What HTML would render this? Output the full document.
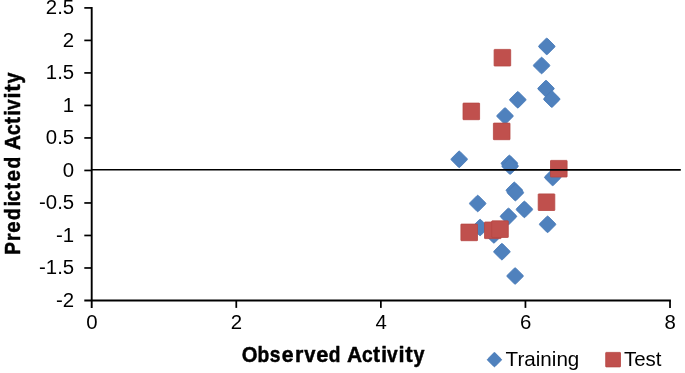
<!DOCTYPE html>
<html><head><meta charset="utf-8"><title>Predicted vs Observed Activity</title>
<style>
html,body{margin:0;padding:0;background:#fff;}
body{width:685px;height:373px;overflow:hidden;font-family:"Liberation Sans",sans-serif;}
svg{display:block;will-change:transform;}
text{font-family:"Liberation Sans",sans-serif;fill:#000;}
.t{font-size:20.6px;}
.l{font-size:20.2px;}
.b{font-size:22.3px;font-weight:bold;stroke:#000;stroke-width:0.5px;stroke-linejoin:round;}
</style></head><body>
<svg width="685" height="373" viewBox="0 0 685 373">
<rect width="685" height="373" fill="#fff"/>

<g fill="#4f81bd" stroke="#477ab8" stroke-width="0.8">
<rect x="540.70" y="40.30" width="12.20" height="12.20" rx="1.1" transform="rotate(45 546.80 46.40)"/>
<rect x="535.50" y="59.40" width="12.20" height="12.20" rx="1.1" transform="rotate(45 541.60 65.50)"/>
<rect x="539.90" y="82.50" width="12.20" height="12.20" rx="1.1" transform="rotate(45 546.00 88.60)"/>
<rect x="545.70" y="93.00" width="12.20" height="12.20" rx="1.1" transform="rotate(45 551.80 99.10)"/>
<rect x="511.70" y="93.70" width="12.20" height="12.20" rx="1.1" transform="rotate(45 517.80 99.80)"/>
<rect x="498.90" y="109.90" width="12.20" height="12.20" rx="1.1" transform="rotate(45 505.00 116.00)"/>
<rect x="453.10" y="153.20" width="12.20" height="12.20" rx="1.1" transform="rotate(45 459.20 159.30)"/>
<rect x="503.30" y="157.30" width="12.20" height="12.20" rx="1.1" transform="rotate(45 509.40 163.40)"/>
<rect x="504.00" y="160.00" width="12.20" height="12.20" rx="1.1" transform="rotate(45 510.10 166.10)"/>
<rect x="508.20" y="184.20" width="12.20" height="12.20" rx="1.1" transform="rotate(45 514.30 190.30)"/>
<rect x="509.30" y="186.50" width="12.20" height="12.20" rx="1.1" transform="rotate(45 515.40 192.60)"/>
<rect x="471.60" y="197.40" width="12.20" height="12.20" rx="1.1" transform="rotate(45 477.70 203.50)"/>
<rect x="518.30" y="203.30" width="12.20" height="12.20" rx="1.1" transform="rotate(45 524.40 209.40)"/>
<rect x="502.40" y="210.30" width="12.20" height="12.20" rx="1.1" transform="rotate(45 508.50 216.40)"/>
<rect x="474.00" y="221.40" width="12.20" height="12.20" rx="1.1" transform="rotate(45 480.10 227.50)"/>
<rect x="487.80" y="228.80" width="12.20" height="12.20" rx="1.1" transform="rotate(45 493.90 234.90)"/>
<rect x="495.80" y="245.60" width="12.20" height="12.20" rx="1.1" transform="rotate(45 501.90 251.70)"/>
<rect x="509.00" y="269.90" width="12.20" height="12.20" rx="1.1" transform="rotate(45 515.10 276.00)"/>
<rect x="546.60" y="171.30" width="12.20" height="12.20" rx="1.1" transform="rotate(45 552.70 177.40)"/>
<rect x="541.50" y="218.20" width="12.20" height="12.20" rx="1.1" transform="rotate(45 547.60 224.30)"/>
</g>
<g fill="#c0504d" stroke="#b54643" stroke-width="0.8">
<rect x="494.10" y="49.40" width="16.60" height="16.60" rx="0.5"/>
<rect x="463.00" y="103.10" width="16.60" height="16.60" rx="0.5"/>
<rect x="493.40" y="123.10" width="16.60" height="16.60" rx="0.5"/>
<rect x="460.90" y="224.10" width="16.60" height="16.60" rx="0.5"/>
<rect x="484.50" y="222.00" width="16.60" height="16.60" rx="0.5"/>
<rect x="491.70" y="220.85" width="16.60" height="16.60" rx="0.5"/>
<rect x="550.50" y="160.40" width="16.60" height="16.60" rx="0.5"/>
<rect x="538.20" y="193.90" width="16.60" height="16.60" rx="0.5"/>
</g>
<g stroke="#000" fill="none">
<line x1="91.70" y1="7.05" x2="91.70" y2="307.90" stroke-width="1.9"/>
<line x1="84.30" y1="300.49" x2="670.92" y2="300.49" stroke-width="1.9"/>
<line x1="84.30" y1="7.90" x2="91.70" y2="7.90" stroke-width="1.7"/>
<line x1="84.30" y1="40.41" x2="91.70" y2="40.41" stroke-width="1.7"/>
<line x1="84.30" y1="72.92" x2="91.70" y2="72.92" stroke-width="1.7"/>
<line x1="84.30" y1="105.43" x2="91.70" y2="105.43" stroke-width="1.7"/>
<line x1="84.30" y1="137.94" x2="91.70" y2="137.94" stroke-width="1.7"/>
<line x1="84.30" y1="170.45" x2="91.70" y2="170.45" stroke-width="1.7"/>
<line x1="84.30" y1="202.96" x2="91.70" y2="202.96" stroke-width="1.7"/>
<line x1="84.30" y1="235.47" x2="91.70" y2="235.47" stroke-width="1.7"/>
<line x1="84.30" y1="267.98" x2="91.70" y2="267.98" stroke-width="1.7"/>
<line x1="236.28" y1="300.49" x2="236.28" y2="307.90" stroke-width="1.75"/>
<line x1="380.86" y1="300.49" x2="380.86" y2="307.90" stroke-width="1.75"/>
<line x1="525.44" y1="300.49" x2="525.44" y2="307.90" stroke-width="1.75"/>
<line x1="670.02" y1="300.49" x2="670.02" y2="307.90" stroke-width="1.75"/>
<line x1="91.70" y1="169.70" x2="680.80" y2="169.90" stroke-width="1.6"/>
</g>
<text class="t" transform="translate(74.20 14.30) scale(0.990 1)" text-anchor="end">2.5</text>
<text class="t" transform="translate(74.20 46.81) scale(0.990 1)" text-anchor="end">2</text>
<text class="t" transform="translate(74.20 79.32) scale(0.990 1)" text-anchor="end">1.5</text>
<text class="t" transform="translate(74.20 111.83) scale(0.990 1)" text-anchor="end">1</text>
<text class="t" transform="translate(74.20 144.34) scale(0.990 1)" text-anchor="end">0.5</text>
<text class="t" transform="translate(74.20 176.85) scale(0.990 1)" text-anchor="end">0</text>
<text class="t" transform="translate(74.20 209.36) scale(0.990 1)" text-anchor="end">-0.5</text>
<text class="t" transform="translate(74.20 241.87) scale(0.990 1)" text-anchor="end">-1</text>
<text class="t" transform="translate(74.20 274.38) scale(0.990 1)" text-anchor="end">-1.5</text>
<text class="t" transform="translate(74.20 306.89) scale(0.990 1)" text-anchor="end">-2</text>
<text class="t" transform="translate(91.90 328.80) scale(0.990 1)" text-anchor="middle">0</text>
<text class="t" transform="translate(236.48 328.80) scale(0.990 1)" text-anchor="middle">2</text>
<text class="t" transform="translate(381.06 328.80) scale(0.990 1)" text-anchor="middle">4</text>
<text class="t" transform="translate(525.64 328.80) scale(0.990 1)" text-anchor="middle">6</text>
<text class="t" transform="translate(670.22 328.80) scale(0.990 1)" text-anchor="middle">8</text>
<g class="b">
<text transform="translate(241.75 361.80) scale(0.907 1)">O</text>
<text transform="translate(257.60 361.80) scale(0.860 1)">b</text>
<text transform="translate(269.82 361.80) scale(0.860 1)">s</text>
<text transform="translate(281.76 361.80) scale(0.950 1)">e</text>
<text transform="translate(294.97 361.80) scale(0.963 1)">r</text>
<text transform="translate(304.20 361.80) scale(0.904 1)">v</text>
<text transform="translate(316.24 361.80) scale(0.976 1)">e</text>
<text transform="translate(328.83 361.80) scale(0.860 1)">d</text>
<text transform="translate(346.96 361.80) scale(0.938 1)">A</text>
<text transform="translate(362.02 361.80) scale(0.860 1)">c</text>
<text transform="translate(373.03 361.80) scale(0.948 1)">t</text>
<text transform="translate(381.24 361.80) scale(0.927 1)">i</text>
<text transform="translate(386.97 361.80) scale(0.860 1)">v</text>
<text transform="translate(398.46 361.80) scale(0.983 1)">i</text>
<text transform="translate(405.14 361.80) scale(1.000 1)">t</text>
<text transform="translate(413.62 361.80) scale(0.888 1)">y</text>
</g>
<g class="b" transform="translate(20.20 253.60) rotate(-90)">
<text transform="translate(-1.11 0) scale(0.860 1)">P</text>
<text transform="translate(12.68 0) scale(0.860 1)">r</text>
<text transform="translate(20.78 0) scale(0.914 1)">e</text>
<text transform="translate(33.58 0) scale(0.861 1)">d</text>
<text transform="translate(47.14 0) scale(0.927 1)">i</text>
<text transform="translate(52.47 0) scale(0.860 1)">c</text>
<text transform="translate(64.13 0) scale(0.881 1)">t</text>
<text transform="translate(72.18 0) scale(0.923 1)">e</text>
<text transform="translate(84.98 0) scale(0.861 1)">d</text>
<text transform="translate(103.52 0) scale(0.931 1)">A</text>
<text transform="translate(118.62 0) scale(0.860 1)">c</text>
<text transform="translate(129.63 0) scale(0.948 1)">t</text>
<text transform="translate(137.84 0) scale(0.927 1)">i</text>
<text transform="translate(143.57 0) scale(0.860 1)">v</text>
<text transform="translate(155.06 0) scale(0.983 1)">i</text>
<text transform="translate(161.74 0) scale(1.000 1)">t</text>
<text transform="translate(170.22 0) scale(0.888 1)">y</text>
</g>
<rect x="489.20" y="354.40" width="10.50" height="10.50" rx="0.9" fill="#4f81bd" stroke="#477ab8" stroke-width="0.8" transform="rotate(45 494.45 359.65)"/>
<text class="l" transform="translate(505.60 365.75) scale(1.021 1)">Training</text>
<rect x="605.70" y="352.40" width="14.80" height="14.50" rx="0.5" fill="#c0504d" stroke="#b54643" stroke-width="0.8"/>
<text class="l" transform="translate(624.00 365.75) scale(1.014 1)">Test</text>
</svg></body></html>
